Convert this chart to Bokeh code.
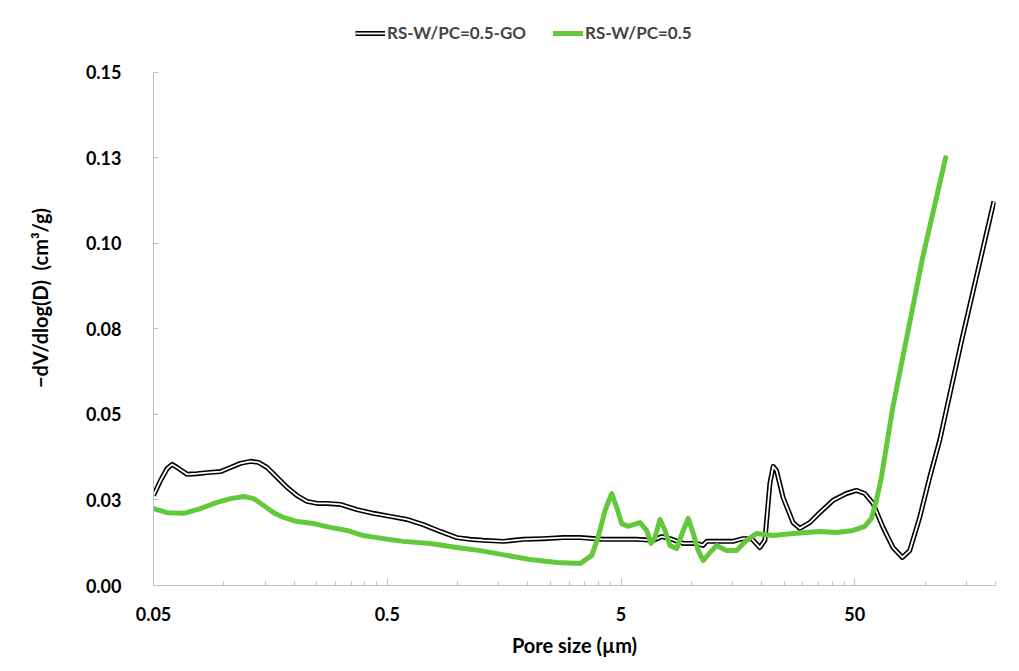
from bokeh.plotting import figure
from bokeh.models import (FixedTicker, CustomJSTickFormatter, Legend, LegendItem, Range1d)
from bokeh.embed import file_html
from bokeh.resources import INLINE

# ---- data ----
go_x = [0.05, 0.0536, 0.0572, 0.0601, 0.0631, 0.0697, 0.0768, 0.0848, 0.0967, 0.1067,
        0.1177, 0.1299, 0.1405, 0.1531, 0.1689, 0.1864, 0.2056, 0.2269, 0.2504, 0.2763,
        0.3149, 0.3710, 0.4356, 0.515, 0.607, 0.713, 0.842, 0.993, 1.131, 1.286,
        1.566, 1.907, 2.321, 2.826, 3.340, 4.189, 5.835, 6.855, 7.465, 8.10,
        9.23, 10.53, 11.20, 11.62, 13.24, 15.05, 16.61, 18.09, 19.63, 20.63,
        21.67, 22.38, 23.14, 24.69, 27.24, 29.11, 32.11, 35.43, 40.39, 46.08,
        50.84, 55.15, 59.85, 66.05, 72.89, 79.95, 85.90, 94.79, 104.6, 115.4,
        143.3, 196.9]
go_y = [0.0263, 0.0307, 0.0342, 0.0354, 0.0345, 0.0325, 0.0327, 0.0330, 0.0333, 0.0345,
        0.0357, 0.0363, 0.0360, 0.0345, 0.0316, 0.0287, 0.0263, 0.0246, 0.0240, 0.0240,
        0.0237, 0.0222, 0.0211, 0.0202, 0.0193, 0.0178, 0.0158, 0.0140, 0.0135, 0.0132,
        0.0129, 0.0135, 0.0137, 0.0140, 0.0140, 0.0135, 0.0135, 0.0132, 0.0143, 0.0137,
        0.0123, 0.0123, 0.0117, 0.0129, 0.0129, 0.0129, 0.0137, 0.0137, 0.0111, 0.0132,
        0.0298, 0.0348, 0.0336, 0.0257, 0.0184, 0.0167, 0.0184, 0.0213, 0.0249, 0.0269,
        0.0278, 0.0269, 0.0240, 0.0170, 0.0111, 0.0082, 0.0102, 0.0199, 0.0316, 0.0424,
        0.0716, 0.1123]

pc_x = [0.05, 0.0572, 0.0674, 0.0794, 0.0936, 0.1067, 0.1216, 0.1342, 0.1480, 0.1633,
        0.1802, 0.2056, 0.2421, 0.2853, 0.3363, 0.3949, 0.4807, 0.585, 0.764, 0.993,
        1.249, 1.624, 2.042, 2.656, 3.340, 3.749, 3.987, 4.272, 4.563, 4.793,
        5.035, 5.355, 6.029, 6.439, 6.719, 6.988, 7.340, 7.711, 8.10, 8.650,
        9.23, 9.694, 10.19, 10.70, 11.24, 12.00, 12.82, 14.15, 15.61, 17.22,
        19.01, 22.38, 27.24, 35.43, 41.77, 49.17, 55.15, 58.91, 61.90, 65.01,
        72.70, 97.6, 122.4]
pc_y = [0.0225, 0.0213, 0.0211, 0.0225, 0.0243, 0.0254, 0.0260, 0.0254, 0.0234, 0.0213,
        0.0199, 0.0187, 0.0181, 0.0170, 0.0161, 0.0146, 0.0137, 0.0129, 0.0123, 0.0111,
        0.0102, 0.0088, 0.0076, 0.0067, 0.0064, 0.0088, 0.0140, 0.0219, 0.0269, 0.0228,
        0.0181, 0.0173, 0.0184, 0.0161, 0.0123, 0.0140, 0.0193, 0.0161, 0.0117, 0.0108,
        0.0161, 0.0196, 0.0152, 0.0102, 0.0073, 0.0096, 0.0117, 0.0102, 0.0102, 0.0132,
        0.0152, 0.0146, 0.0152, 0.0158, 0.0155, 0.0161, 0.0173, 0.0196, 0.0249, 0.0316,
        0.0520, 0.0959, 0.1251]

x_ticks = [0.05, 0.5, 5, 50]
x_tick_labels = ["0.05", "0.5", "5", "50"]
y_ticks = [0.0, 0.025, 0.05, 0.075, 0.10, 0.125, 0.15]
y_tick_labels = ["0.00", "0.03", "0.05", "0.08", "0.10", "0.13", "0.15"]

series_names = ["RS-W/PC=0.5-GO", "RS-W/PC=0.5"]

FONT = "Lato"
GREEN = "#63C93B"

# frame extends above the 0.15 tick so the legend fits inside it; the axis line stops at 0.15
p = figure(width=1019, height=671, x_axis_type="log", output_backend="svg",
           toolbar_location=None, x_range=Range1d(0.05, 200), y_range=Range1d(0, 0.1681),
           min_border_left=153, min_border_right=24, min_border_bottom=86, min_border_top=10)
p.outline_line_color = None
p.xgrid.visible = False
p.ygrid.visible = False
p.background_fill_color = "white"
p.border_fill_color = "white"

# lines
r_black = p.line(go_x, go_y, line_color="black", line_width=5, line_join="round")
r_white = p.line(go_x, go_y, line_color="white", line_width=1.8, line_join="round")
r_green = p.line(pc_x, pc_y, line_color=GREEN, line_width=5, line_join="round", line_cap="round")

# x axis
minor = []
for d in [0.05, 0.5, 5, 50]:
    for k in range(2, 10):
        v = d * k
        if v <= 200:
            minor.append(v)
p.xaxis.ticker = FixedTicker(ticks=x_ticks, minor_ticks=minor)
p.xaxis.formatter = CustomJSTickFormatter(args=dict(t=x_ticks, lab=x_tick_labels), code="""
const i = t.findIndex(v => Math.abs(v - tick) < 1e-6 * v);
return i >= 0 ? lab[i] : '';
""")
p.xaxis.axis_label = "Pore size (µm)"
# y axis
p.yaxis.ticker = FixedTicker(ticks=y_ticks)
p.yaxis.bounds = (0, 0.15)
p.yaxis.formatter = CustomJSTickFormatter(args=dict(lab=y_tick_labels), code="""
return lab[Math.round(tick / 0.025)];
""")
p.yaxis.axis_label = "\u2212dV/dlog(D)\u00a0\u00a0(cm\u00b3/g)"

for ax in [p.xaxis[0], p.yaxis[0]]:
    ax.axis_line_color = "#BFBFBF"
    ax.axis_line_width = 1
    ax.major_tick_line_color = "#BFBFBF"
    ax.minor_tick_line_color = "#BFBFBF"
    ax.major_tick_out = 0
    ax.minor_tick_out = 0
    ax.major_label_text_font = FONT
    ax.major_label_text_font_style = "bold"
    ax.major_label_text_font_size = "18px"
    ax.major_label_text_color = "black"
    ax.axis_label_text_font = FONT
    ax.axis_label_text_font_style = "bold"
    ax.axis_label_text_font_size = "20px"
    ax.axis_label_text_color = "black"

p.xaxis.major_tick_in = 7
p.xaxis.minor_tick_in = 4
p.xaxis.major_label_standoff = 21
p.xaxis.axis_label_standoff = 9
p.yaxis.major_tick_in = 5
p.yaxis.minor_tick_in = 0
p.yaxis.major_label_standoff = 32
p.yaxis.axis_label_standoff = 31

legend = Legend(items=[LegendItem(label=series_names[0], renderers=[r_black, r_white]),
                       LegendItem(label=series_names[1], renderers=[r_green])],
                orientation="horizontal", location=(202, 542),
                label_text_font=FONT, label_text_font_style="bold", label_text_font_size="17px",
                glyph_width=30, label_standoff=2, spacing=27, border_line_color=None,
                background_fill_alpha=0, margin=0, padding=0)
p.add_layout(legend, "center")

open("out.html", "w").write(file_html(p, INLINE))
